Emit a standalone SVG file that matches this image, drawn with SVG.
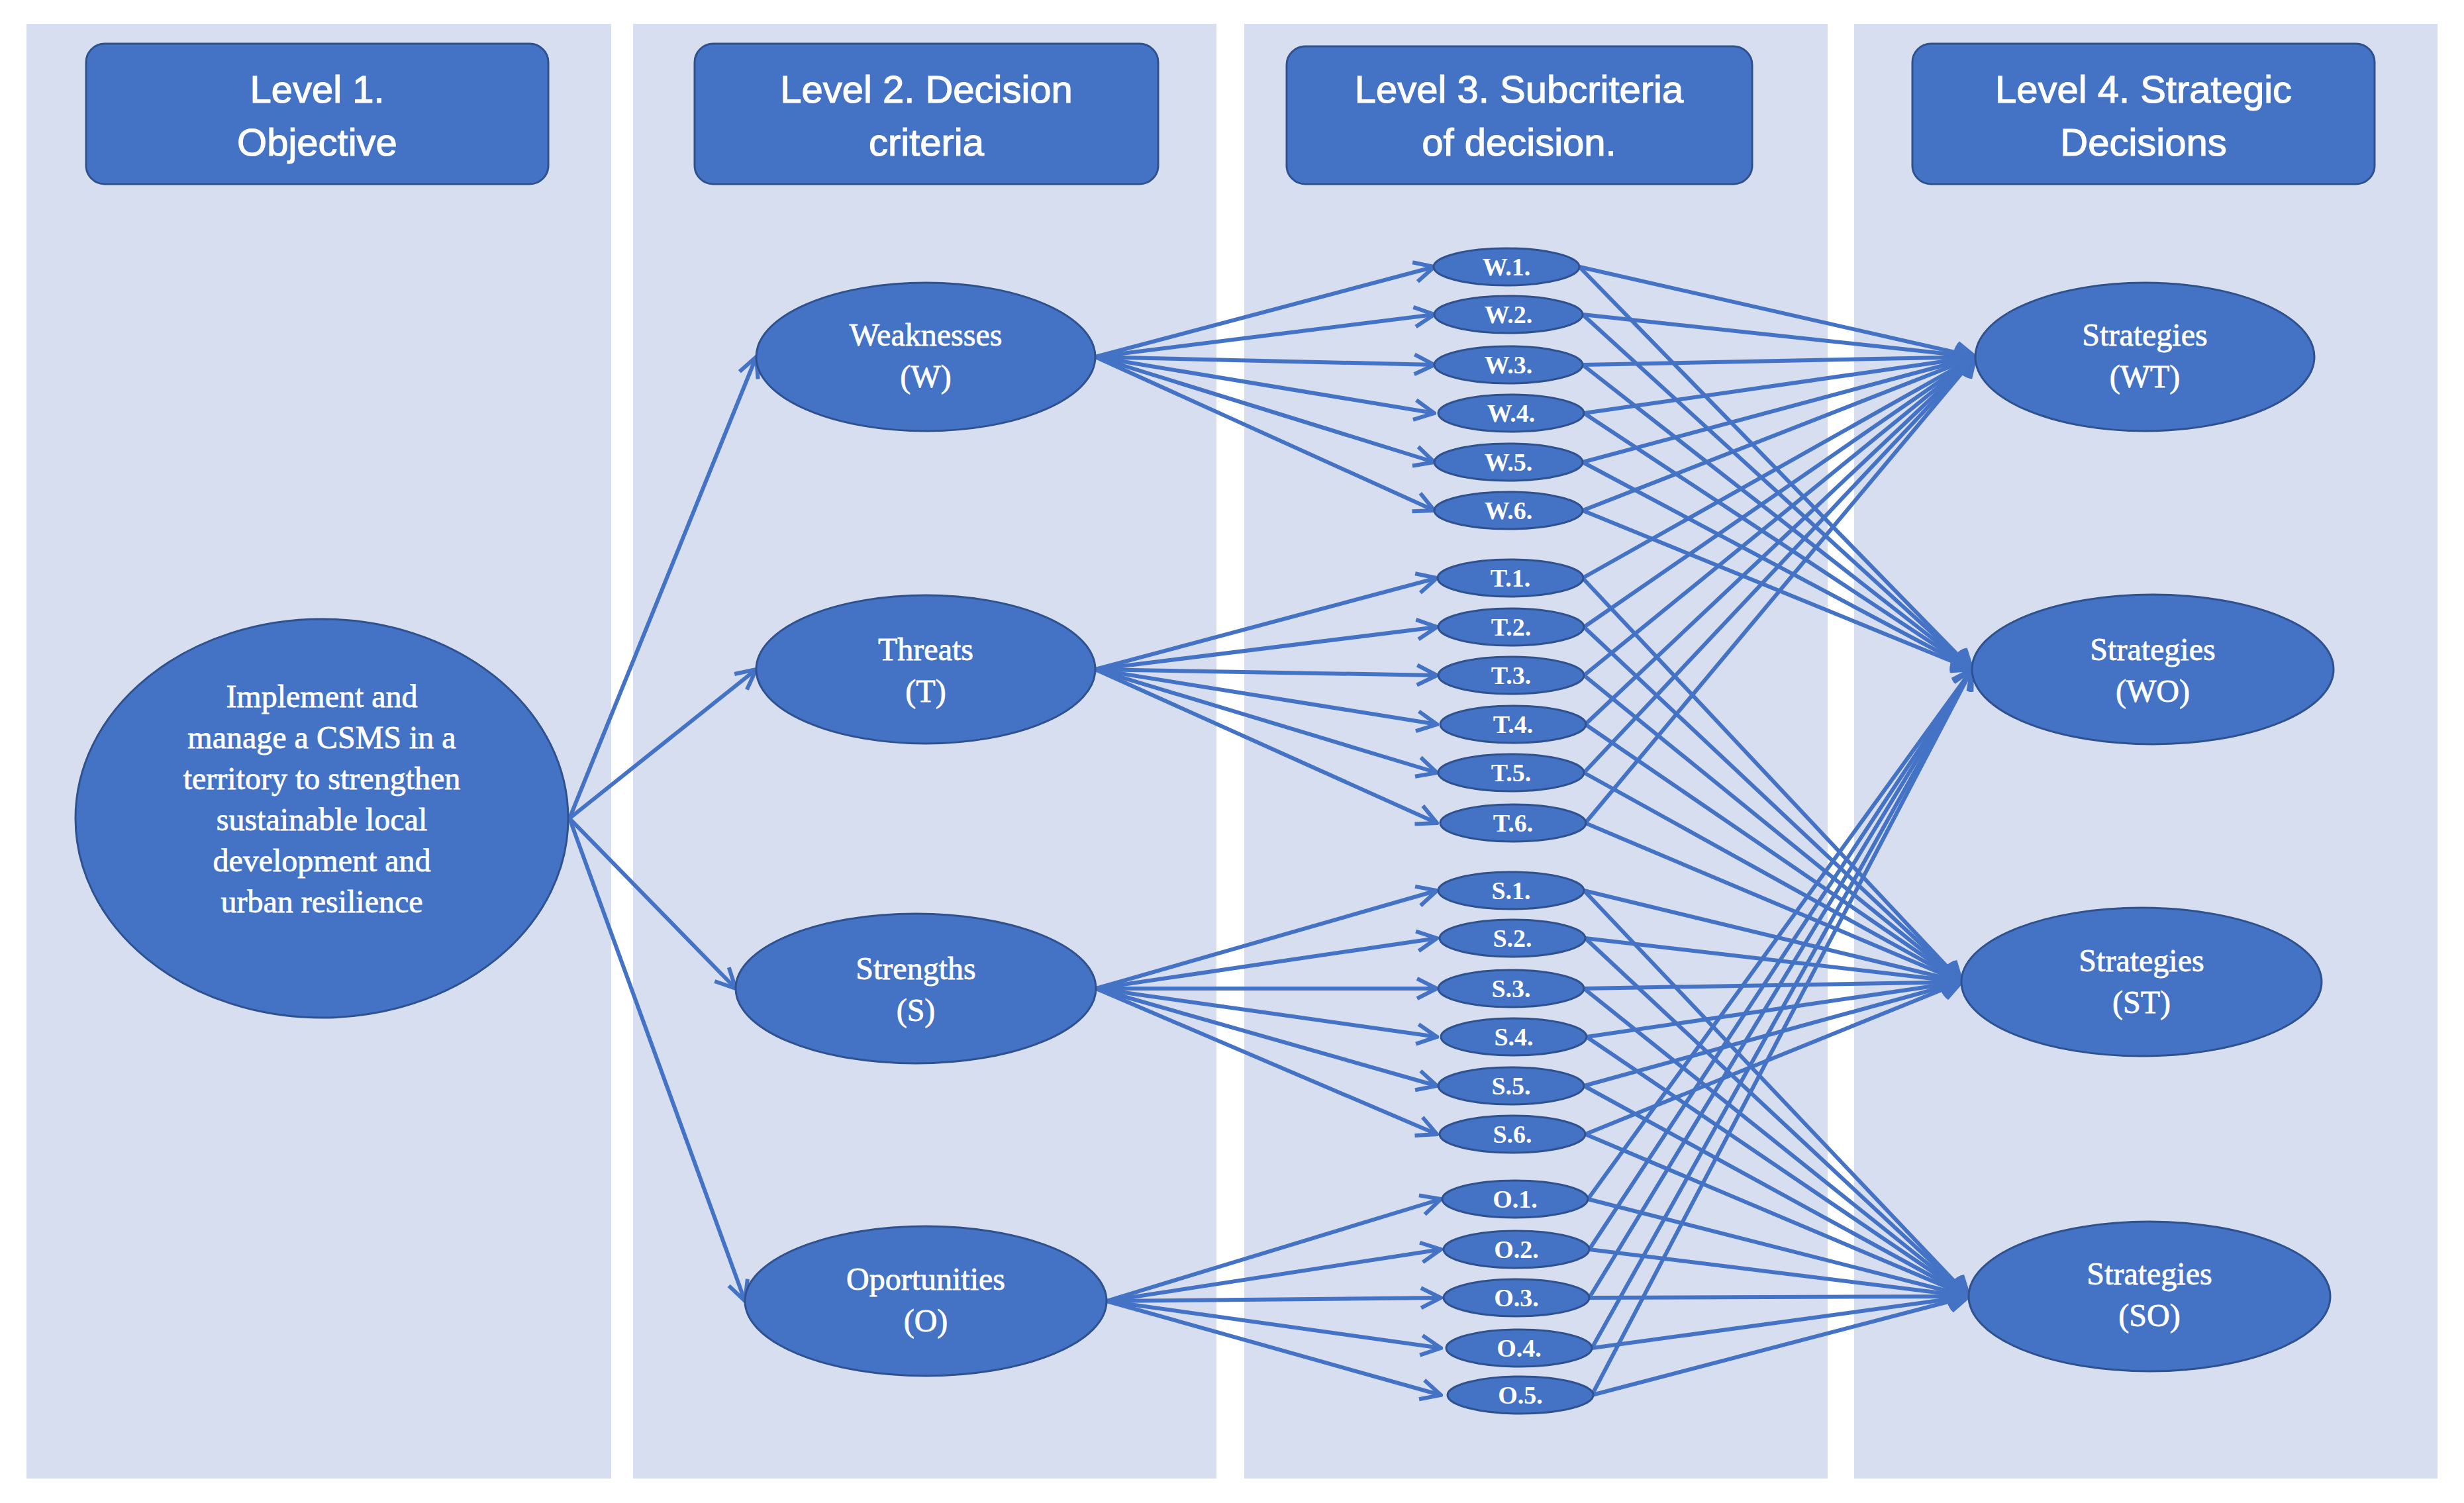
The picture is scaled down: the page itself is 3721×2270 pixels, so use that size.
<svg xmlns="http://www.w3.org/2000/svg" width="3721" height="2270" viewBox="0 0 3721 2270">
<style>
.panel{fill:#D6DEF0}
.hdr{fill:#4472C4;stroke:#2F528F;stroke-width:3}
.nd{fill:#4472C4;stroke:#2F528F;stroke-width:3}
.ht{font-family:"Liberation Sans",Arial,sans-serif;font-size:58px;fill:#fff;text-anchor:middle;stroke:#fff;stroke-width:1.2}
.nt{font-family:"Liberation Serif","Times New Roman",serif;font-size:48px;fill:#fff;text-anchor:middle;stroke:#fff;stroke-width:0.8}
.st{font-family:"Liberation Serif","Times New Roman",serif;font-size:38px;font-weight:bold;fill:#fff;text-anchor:middle}
#conn path{stroke:#4472C4;stroke-width:6;fill:none;marker-end:url(#ah)}
</style>
<defs>
<marker id="ah" viewBox="0 0 12 12" refX="11" refY="6" markerWidth="6" markerHeight="6" orient="auto" markerUnits="strokeWidth">
<path d="M1 1 L11 6 L1 11" fill="none" stroke="#4472C4" stroke-width="2"/>
</marker>
</defs>
<rect width="3721" height="2270" fill="#fff"/>
<rect class="panel" x="40" y="36" width="883" height="2197"/>
<rect class="panel" x="956" y="36" width="881" height="2197"/>
<rect class="panel" x="1879" y="36" width="881" height="2197"/>
<rect class="panel" x="2800" y="36" width="881" height="2197"/>
<g id="h1"><rect class="hdr" x="130" y="66" width="698" height="212" rx="28"/><text class="ht" x="479" y="155">Level 1.</text><text class="ht" x="479" y="235">Objective</text></g>
<g id="h2"><rect class="hdr" x="1049" y="66" width="700" height="212" rx="28"/><text class="ht" x="1399" y="155">Level 2. Decision</text><text class="ht" x="1399" y="235">criteria</text></g>
<g id="h3"><rect class="hdr" x="1943" y="70" width="703" height="208" rx="28"/><text class="ht" x="2294" y="155">Level 3. Subcriteria</text><text class="ht" x="2294" y="235">of decision.</text></g>
<g id="h4"><rect class="hdr" x="2888" y="66" width="698" height="212" rx="28"/><text class="ht" x="3237" y="155">Level 4. Strategic</text><text class="ht" x="3237" y="235">Decisions</text></g>
<g id="conn">
<path d="M860 1236 L1142 539"/><path d="M860 1236 L1142 1011"/><path d="M860 1236 L1111 1493"/><path d="M860 1236 L1125 1965"/>
<path d="M1654 539 L2166 403"/><path d="M1654 539 L2166 475"/><path d="M1654 539 L2166 551"/><path d="M1654 539 L2166 624"/><path d="M1654 539 L2166 698"/><path d="M1654 539 L2166 771"/>
<path d="M1654 1011 L2170 873"/><path d="M1654 1011 L2170 947"/><path d="M1654 1011 L2170 1020"/><path d="M1654 1011 L2170 1094"/><path d="M1654 1011 L2170 1167"/><path d="M1654 1011 L2170 1243"/>
<path d="M1655 1493 L2170 1345"/><path d="M1655 1493 L2170 1417"/><path d="M1655 1493 L2170 1493"/><path d="M1655 1493 L2170 1566"/><path d="M1655 1493 L2170 1640"/><path d="M1655 1493 L2170 1713"/>
<path d="M1671 1965 L2176 1811"/><path d="M1671 1965 L2176 1887"/><path d="M1671 1965 L2176 1960"/><path d="M1671 1965 L2176 2036"/><path d="M1671 1965 L2176 2107"/>
<path d="M2385 403 L2983 539"/><path d="M2390 475 L2983 539"/><path d="M2390 551 L2983 539"/><path d="M2392 624 L2983 539"/><path d="M2390 698 L2983 539"/><path d="M2390 771 L2983 539"/>
<path d="M2385 403 L2978 1011"/><path d="M2390 475 L2978 1011"/><path d="M2390 551 L2978 1011"/><path d="M2392 624 L2978 1011"/><path d="M2390 698 L2978 1011"/><path d="M2390 771 L2978 1011"/>
<path d="M2390 873 L2983 539"/><path d="M2392 947 L2983 539"/><path d="M2392 1020 L2983 539"/><path d="M2394 1094 L2983 539"/><path d="M2392 1167 L2983 539"/><path d="M2394 1243 L2983 539"/>
<path d="M2390 873 L2962 1483"/><path d="M2392 947 L2962 1483"/><path d="M2392 1020 L2962 1483"/><path d="M2394 1094 L2962 1483"/><path d="M2392 1167 L2962 1483"/><path d="M2394 1243 L2962 1483"/>
<path d="M2392 1345 L2962 1483"/><path d="M2394 1417 L2962 1483"/><path d="M2392 1493 L2962 1483"/><path d="M2396 1566 L2962 1483"/><path d="M2392 1640 L2962 1483"/><path d="M2394 1713 L2962 1483"/>
<path d="M2392 1345 L2973 1958"/><path d="M2394 1417 L2973 1958"/><path d="M2392 1493 L2973 1958"/><path d="M2396 1566 L2973 1958"/><path d="M2392 1640 L2973 1958"/><path d="M2394 1713 L2973 1958"/>
<path d="M2398 1811 L2978 1011"/><path d="M2400 1887 L2978 1011"/><path d="M2400 1960 L2978 1011"/><path d="M2404 2036 L2978 1011"/><path d="M2404 2107 L2978 1011"/>
<path d="M2398 1811 L2973 1958"/><path d="M2400 1887 L2973 1958"/><path d="M2400 1960 L2973 1958"/><path d="M2404 2036 L2973 1958"/><path d="M2404 2107 L2973 1958"/>
</g>
<g id="root"><ellipse class="nd" cx="486" cy="1236" rx="372" ry="301"/>
<text class="nt" x="486" y="1068">Implement and</text><text class="nt" x="486" y="1130">manage a CSMS in a</text><text class="nt" x="486" y="1192">territory to strengthen</text><text class="nt" x="486" y="1254">sustainable local</text><text class="nt" x="486" y="1316">development and</text><text class="nt" x="486" y="1378">urban resilience</text></g>
<g id="W"><ellipse class="nd" cx="1398" cy="539" rx="256" ry="112"/><text class="nt" x="1398" y="522">Weaknesses</text><text class="nt" x="1398" y="585">(W)</text></g>
<g id="T"><ellipse class="nd" cx="1398" cy="1011" rx="256" ry="112"/><text class="nt" x="1398" y="997">Threats</text><text class="nt" x="1398" y="1060">(T)</text></g>
<g id="S"><ellipse class="nd" cx="1383" cy="1493" rx="272" ry="113"/><text class="nt" x="1383" y="1479">Strengths</text><text class="nt" x="1383" y="1542">(S)</text></g>
<g id="O"><ellipse class="nd" cx="1398" cy="1965" rx="273" ry="113"/><text class="nt" x="1398" y="1948">Oportunities</text><text class="nt" x="1398" y="2011">(O)</text></g>
<g id="W1"><ellipse class="nd" cx="2275" cy="403" rx="110" ry="28"/><text class="st" x="2275" y="416">W.1.</text></g>
<g id="W2"><ellipse class="nd" cx="2278" cy="475" rx="112" ry="28"/><text class="st" x="2278" y="488">W.2.</text></g>
<g id="W3"><ellipse class="nd" cx="2278" cy="551" rx="112" ry="28"/><text class="st" x="2278" y="564">W.3.</text></g>
<g id="W4"><ellipse class="nd" cx="2282" cy="624" rx="110" ry="28"/><text class="st" x="2282" y="637">W.4.</text></g>
<g id="W5"><ellipse class="nd" cx="2278" cy="698" rx="112" ry="28"/><text class="st" x="2278" y="711">W.5.</text></g>
<g id="W6"><ellipse class="nd" cx="2278" cy="771" rx="112" ry="28"/><text class="st" x="2278" y="784">W.6.</text></g>
<g id="T1"><ellipse class="nd" cx="2281" cy="873" rx="110" ry="28"/><text class="st" x="2281" y="886">T.1.</text></g>
<g id="T2"><ellipse class="nd" cx="2282" cy="947" rx="110" ry="28"/><text class="st" x="2282" y="960">T.2.</text></g>
<g id="T3"><ellipse class="nd" cx="2282" cy="1020" rx="110" ry="28"/><text class="st" x="2282" y="1033">T.3.</text></g>
<g id="T4"><ellipse class="nd" cx="2285" cy="1094" rx="110" ry="28"/><text class="st" x="2285" y="1107">T.4.</text></g>
<g id="T5"><ellipse class="nd" cx="2282" cy="1167" rx="110" ry="28"/><text class="st" x="2282" y="1180">T.5.</text></g>
<g id="T6"><ellipse class="nd" cx="2285" cy="1243" rx="110" ry="28"/><text class="st" x="2285" y="1256">T.6.</text></g>
<g id="S1"><ellipse class="nd" cx="2282" cy="1345" rx="110" ry="28"/><text class="st" x="2282" y="1358">S.1.</text></g>
<g id="S2"><ellipse class="nd" cx="2284" cy="1417" rx="110" ry="28"/><text class="st" x="2284" y="1430">S.2.</text></g>
<g id="S3"><ellipse class="nd" cx="2282" cy="1493" rx="110" ry="28"/><text class="st" x="2282" y="1506">S.3.</text></g>
<g id="S4"><ellipse class="nd" cx="2286" cy="1566" rx="110" ry="28"/><text class="st" x="2286" y="1579">S.4.</text></g>
<g id="S5"><ellipse class="nd" cx="2282" cy="1640" rx="110" ry="28"/><text class="st" x="2282" y="1653">S.5.</text></g>
<g id="S6"><ellipse class="nd" cx="2284" cy="1713" rx="110" ry="28"/><text class="st" x="2284" y="1726">S.6.</text></g>
<g id="O1"><ellipse class="nd" cx="2288" cy="1811" rx="110" ry="28"/><text class="st" x="2288" y="1824">O.1.</text></g>
<g id="O2"><ellipse class="nd" cx="2290" cy="1887" rx="110" ry="28"/><text class="st" x="2290" y="1900">O.2.</text></g>
<g id="O3"><ellipse class="nd" cx="2290" cy="1960" rx="110" ry="28"/><text class="st" x="2290" y="1973">O.3.</text></g>
<g id="O4"><ellipse class="nd" cx="2294" cy="2036" rx="110" ry="28"/><text class="st" x="2294" y="2049">O.4.</text></g>
<g id="O5"><ellipse class="nd" cx="2296" cy="2107" rx="110" ry="28"/><text class="st" x="2296" y="2120">O.5.</text></g>
<g id="WT"><ellipse class="nd" cx="3239" cy="539" rx="256" ry="112"/><text class="nt" x="3239" y="522">Strategies</text><text class="nt" x="3239" y="585">(WT)</text></g>
<g id="WO"><ellipse class="nd" cx="3251" cy="1011" rx="273" ry="113"/><text class="nt" x="3251" y="997">Strategies</text><text class="nt" x="3251" y="1060">(WO)</text></g>
<g id="ST"><ellipse class="nd" cx="3234" cy="1483" rx="272" ry="112"/><text class="nt" x="3234" y="1467">Strategies</text><text class="nt" x="3234" y="1530">(ST)</text></g>
<g id="SO"><ellipse class="nd" cx="3246" cy="1958" rx="273" ry="113"/><text class="nt" x="3246" y="1940">Strategies</text><text class="nt" x="3246" y="2003">(SO)</text></g>
</svg>
